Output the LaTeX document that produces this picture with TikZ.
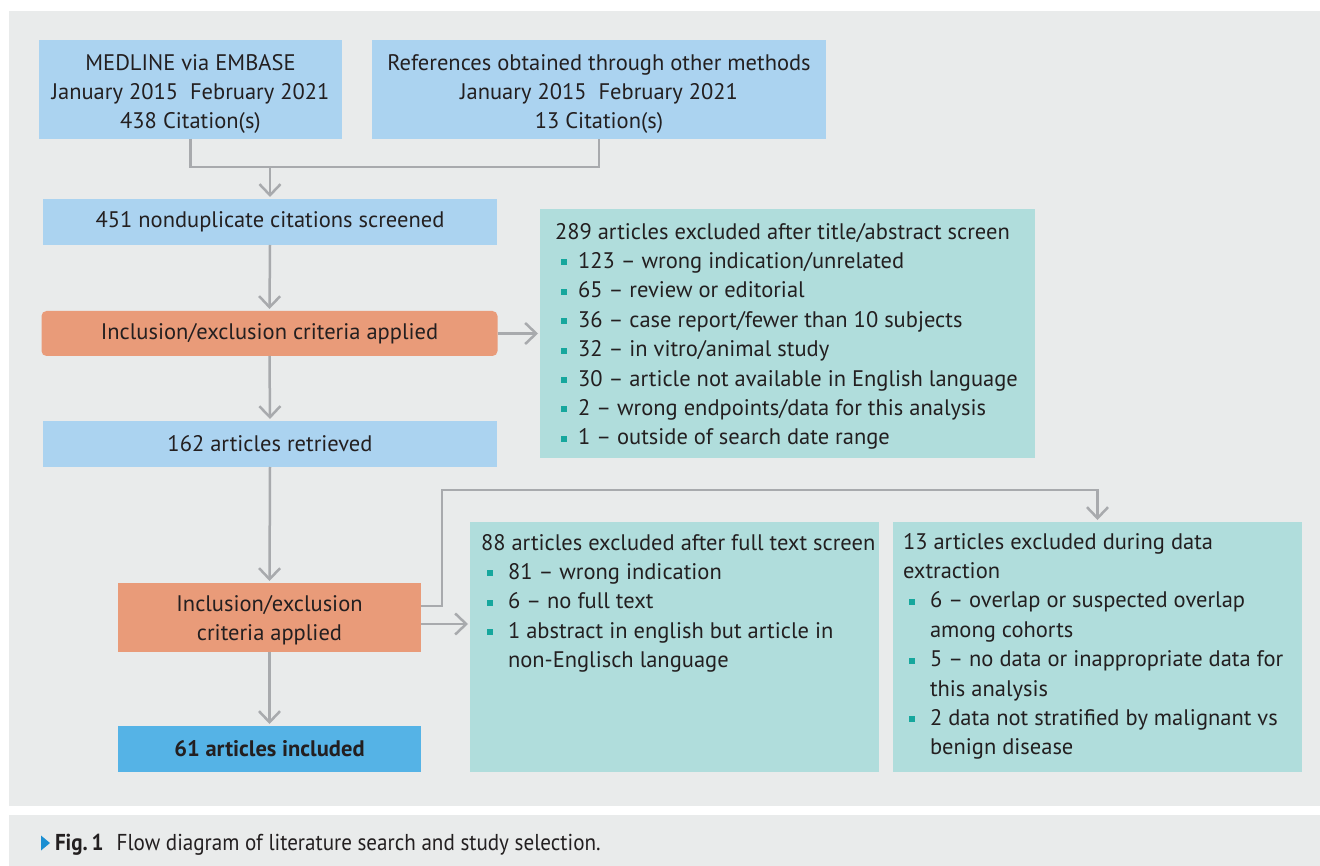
\documentclass[tikz,border=0pt]{standalone}
\usepackage{fontspec}
\setmainfont{PT Sans}
\newfontfamily\capfam[FakeStretch=0.917]{PT Sans}
\usetikzlibrary{arrows.meta}
\definecolor{panel}{HTML}{E9EBEB}
\definecolor{lblue}{HTML}{ABD3F0}
\definecolor{dblue}{HTML}{55B3E6}
\definecolor{orng}{HTML}{E99B79}
\definecolor{teal}{HTML}{B0DDDC}
\definecolor{bulc}{HTML}{16A79D}
\definecolor{arrc}{HTML}{A8AAAD}
\definecolor{txt}{HTML}{231F20}
\definecolor{capblue}{HTML}{1B8FD2}
\newcommand\fs{\fontsize{22.5}{29.4}\selectfont}
\newcommand\bul{\textcolor{bulc}{\rule[3pt]{6pt}{6pt}}}
\newcommand\itm[2][21pt]{\hspace*{6pt}\makebox[#1][l]{\bul}#2}
\newcommand\cont[1]{\hspace*{27pt}#1}
\begin{document}
\begin{tikzpicture}[x=1pt,y=-1pt,
  every node/.style={inner sep=0pt, outer sep=0pt, text=txt, font=\fs},
  bbox/.style={rectangle, fill=lblue, align=center},
  obox/.style={rectangle, fill=orng, align=center},
  tbox/.style={rectangle, fill=teal},
  ln/.style={draw=arrc, line width=2.5pt},
  arr/.style={ln, -{Straight Barb[length=11pt,width=21pt]}, shorten >=2pt}
]
\useasboundingbox (0,0) rectangle (1320,866);
\fill[white] (0,0) rectangle (1320,866);
\fill[panel] (9,11) rectangle (1320,806);
\fill[panel] (9,815) rectangle (1320,866);

% boxes
\node[bbox, minimum width=303pt, minimum height=99pt] (med) at (190.5,89.5)
  {\rule{0pt}{25pt}MEDLINE via EMBASE\\January 2015\ \ February 2021\\438 Citation(s)};
\node[bbox, minimum width=454pt, minimum height=99pt] (refs) at (599,89.5)
  {\rule{0pt}{25pt}References obtained through other methods\\January 2015\ \ February 2021\\13 Citation(s)};
\node[bbox, minimum width=454pt, minimum height=46pt] (s451) at (270,222)
  {451 nonduplicate citations screened};
\node[obox, rounded corners=5pt, minimum width=456pt, minimum height=45pt] (inc1) at (269.5,333.5)
  {Inclusion/exclusion criteria applied};
\node[bbox, minimum width=454pt, minimum height=46pt] (ret) at (270,444)
  {162 articles retrieved};
\node[obox, minimum width=303pt, minimum height=69pt] (inc2) at (269.5,617.5)
  {\rule{0pt}{22pt}Inclusion/exclusion\\criteria applied};
\node[rectangle, fill=dblue, minimum width=303pt, minimum height=46pt] (inc61) at (269.5,749)
  {\bfseries 61 articles included};

\node[tbox, minimum width=495pt, minimum height=249pt] (b289) at (787.5,333.5) {};
\node[tbox, minimum width=409pt, minimum height=250pt] (b88) at (674.5,647) {};
\node[tbox, minimum width=409pt, minimum height=250pt] (b13) at (1097.5,647) {};

\node[anchor=north west, align=left] (t289) at ([xshift=15pt,yshift=-12pt]b289.north west)
  {\rule{0pt}{18pt}289 articles excluded after title/abstract screen\\
   \itm[17pt]{123 – wrong indication/unrelated}\\
   \itm[17pt]{65 – review or editorial}\\
   \itm[17pt]{36 – case report/fewer than 10 subjects}\\
   \itm[17pt]{32 – in vitro/animal study}\\
   \itm[17pt]{30 – article not available in English language}\\
   \itm[17pt]{2 – wrong endpoints/data for this analysis}\\
   \itm[17pt]{1 – outside of search date range}};
\node[anchor=north west, align=left] (t88) at ([xshift=11pt,yshift=-10pt]b88.north west)
  {\rule{0pt}{18pt}88 articles excluded after full text screen\\
   \itm{81 – wrong indication}\\
   \itm{6 – no full text}\\
   \itm{1 abstract in english but article in}\\
   \cont{non-Englisch language}};
\node[anchor=north west, align=left] (t13) at ([xshift=10pt,yshift=-9pt]b13.north west)
  {\rule{0pt}{18pt}13 articles excluded during data\\
   extraction\\
   \itm{6 – overlap or suspected overlap}\\
   \cont{among cohorts}\\
   \itm{5 – no data or inappropriate data for}\\
   \cont{this analysis}\\
   \itm{2 data not stratified by malignant vs}\\
   \cont{benign disease}};

% connectors
\draw[ln] (med.south) -- ++(0,28) -| (refs.south);
\coordinate (j1) at (270,167);
\draw[arr] (j1) -- (s451.north);
\draw[arr] (s451.south) -- (inc1.north);
\draw[arr] (inc1.east) -- (b289.west);
\draw[arr] (inc1.south) -- (ret.north);
\draw[arr] (ret.south) -- (inc2.north);
\draw[arr] (inc2.south) -- (inc61.north);
\coordinate (k) at (442,490);
\draw[arr] ([yshift=-23pt]inc2.north east) -| (k) -| (b13.north);
\coordinate (a88) at ([yshift=-41pt]inc2.north east);
\draw[arr] (a88) -- (a88 -| b88.west);

% caption
\fill[capblue] (41,835.5) -- (50,843) -- (41,850.5) -- cycle;
\node[anchor=base west, font=\capfam\fontsize{23}{27}\selectfont] (cap) at (55,850)
  {\textbf{Fig.\,1}\hspace{13pt}Flow diagram of literature search and study selection.};
\end{tikzpicture}
\end{document}
